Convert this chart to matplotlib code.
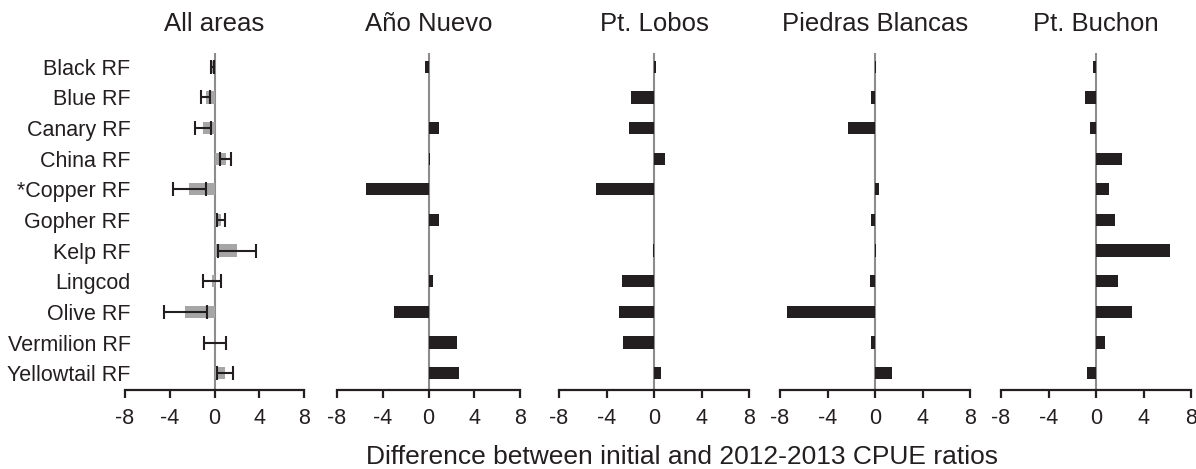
#!/usr/bin/env python

import numpy as np
import matplotlib
matplotlib.use("Agg")
import matplotlib.pyplot as plt

species = ["Black RF", "Blue RF", "Canary RF", "China RF", "*Copper RF",
           "Gopher RF", "Kelp RF", "Lingcod", "Olive RF", "Vermilion RF",
           "Yellowtail RF"]

# all areas (mean with error bars)
all_areas = np.array([-0.2, -0.8, -1.0, 1.0, -2.25, 0.6, 2.0, -0.25, -2.6, 0.05, 0.95])
all_err = np.array([0.15, 0.4, 0.7, 0.5, 1.5, 0.37, 1.7, 0.8, 1.9, 0.95, 0.7])

# single sites
ano_nuevo = np.array([-0.3, 0.0, 0.9, 0.1, -5.5, 0.93, 0.0, 0.35, -3.05, 2.45, 2.7])
pt_lobos = np.array([0.2, -1.93, -2.13, 0.9, -4.87, 0.0, -0.1, -2.69, -2.91, -2.63, 0.59])
piedras_blancas = np.array([0.05, -0.36, -2.24, 0.0, 0.36, -0.36, 0.05, -0.45, -7.42, -0.3, 1.4])
pt_buchon = np.array([-0.25, -0.93, -0.53, 2.16, 1.12, 1.6, 6.24, 1.88, 3.03, 0.76, -0.73])

titles = ["All areas", "A\u00f1o Nuevo", "Pt. Lobos", "Piedras Blancas", "Pt. Buchon"]
site_data = [ano_nuevo, pt_lobos, piedras_blancas, pt_buchon]
xticks = [-8, -4, 0, 4, 8]

plt.rcParams['font.family'] = ['Liberation Sans', 'DejaVu Sans']
txt = '#231f20'


def style_axis(ax, title):
    ax.set_xlim(-8, 8)
    ax.set_ylim(10.55, -0.45)
    ax.axvline(0, color='#8c8c8c', lw=1.5, zorder=1)
    for s in ['top', 'right', 'left']:
        ax.spines[s].set_visible(False)
    ax.spines['bottom'].set_linewidth(1.6)
    ax.spines['bottom'].set_color(txt)
    ax.set_xticks(xticks)
    ax.set_xticklabels([str(t) for t in xticks])
    ax.tick_params(axis='x', direction='out', length=6, width=1.6,
                   color=txt, labelsize=15.5, labelcolor=txt, pad=7)
    ax.set_title(title, fontsize=18.5, color=txt, pad=16)


def main():
    fig = plt.figure(figsize=(11.96, 4.69), dpi=100)
    lefts = [125, 337, 559, 780, 1001]
    widths = [179, 183, 190, 190, 190]
    y = np.arange(len(species))
    axes = []
    for l, w in zip(lefts, widths):
        axes.append(fig.add_axes([l / 1196, 1 - 390 / 469, w / 1196, 337 / 469]))

    ax = axes[0]
    ax.barh(y, all_areas, height=0.4, color='#a6a6a6', zorder=2)
    ax.errorbar(all_areas, y, xerr=all_err, fmt='none', ecolor=txt,
                elinewidth=1.5, capsize=5, capthick=1.5, zorder=3)
    style_axis(ax, titles[0])
    ax.set_yticks(y)
    ax.set_yticklabels(species)
    ax.tick_params(axis='y', length=0, labelsize=15.5, labelcolor=txt, pad=-4)

    for ax, vals, title in zip(axes[1:], site_data, titles[1:]):
        ax.barh(y, vals, height=0.4, color='#231f20', zorder=2)
        style_axis(ax, title)
        ax.set_yticks([])

    fig.text(682 / 1196, 1 - 456.7 / 469,
             "Difference between initial and 2012-2013 CPUE ratios",
             ha='center', va='center', fontsize=19, color=txt)

    plt.savefig("out.png", dpi=100)
    plt.close()


if __name__ == "__main__":
    main()
